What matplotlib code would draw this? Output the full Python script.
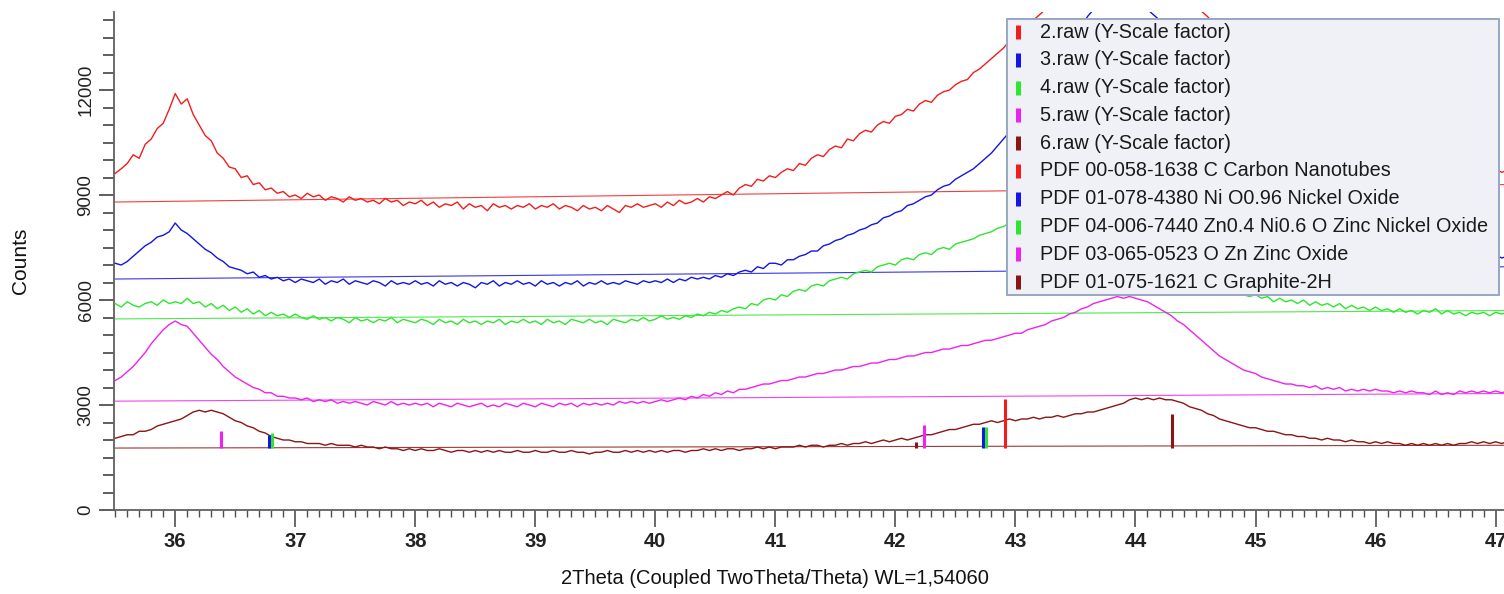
import matplotlib
matplotlib.use("Agg")
import matplotlib.pyplot as plt
import numpy as np
from matplotlib import font_manager
from matplotlib.ticker import MultipleLocator
from matplotlib.patches import Rectangle
from matplotlib.lines import Line2D

plt.rcParams['font.family'] = ['Liberation Sans', 'DejaVu Sans']

# axis texts in the original use a narrow face; fall back to a normal one
font_names = {f.name for f in font_manager.fontManager.ttflist}
if 'Liberation Sans Narrow' in font_names:
    NARROW, XT_SIZE, XL_SIZE = ['Liberation Sans Narrow', 'DejaVu Sans'], 16, 17.5
else:
    NARROW, XT_SIZE, XL_SIZE = ['Liberation Sans', 'DejaVu Sans'], 14.5, 14.5

# scan grid (2theta), one value every 0.05 deg starting at 35.50
start_2theta = 35.50
step_2theta = 0.05

raw2 = [9620, 9750, 9900, 10150, 10050, 10450, 10600, 10900, 11050, 11450,
        11900, 11600, 11750, 11300, 11000, 10700, 10550, 10200, 10050, 9800, 9750, 9500, 9550, 9300, 9350, 9150, 9200, 9050, 9100, 8950,
        9000, 8900, 9050, 8950, 9000, 8850, 8950, 8900, 8800, 8950, 8850, 8900, 8800, 8850, 8750, 8900, 8800, 8850, 8700, 8800,
        8750, 8850, 8700, 8800, 8650, 8750, 8700, 8800, 8600, 8750, 8650, 8700, 8550, 8750, 8650, 8700, 8600, 8700, 8650, 8750,
        8600, 8700, 8650, 8750, 8600, 8700, 8650, 8550, 8700, 8600, 8650, 8550, 8700, 8600, 8500, 8700, 8650, 8750, 8650, 8700,
        8750, 8650, 8800, 8700, 8850, 8750, 8800, 8900, 8800, 8950, 8900, 9000, 9100, 9000, 9200, 9300, 9250, 9450, 9400, 9550,
        9500, 9650, 9750, 9700, 9900, 9850, 10050, 10150, 10100, 10300, 10400, 10350, 10600, 10550, 10750, 10850, 10800, 11000, 11100, 11050,
        11250, 11300, 11450, 11400, 11600, 11700, 11650, 11850, 11950, 12000, 12150, 12250, 12300, 12500, 12600, 12750, 12900, 13050, 13200, 13400,
        13600, 13750, 13850, 14000, 14150, 14300, 14500, 14700, 14900, 15050, 15200, 15300, 15400, 15500, 15550, 15600, 15600, 15650, 15600, 15550,
        15500, 15400, 15300, 15150, 15000, 14900, 14800, 14700, 14600, 14500, 14400, 14250, 14100, 13900, 13600, 13300, 13000, 12700, 12450, 12200,
        11950, 11700, 11500, 11300, 11150, 11000, 10900, 10750, 10700, 10550, 10500, 10400, 10350, 10300, 10200, 10250, 10150, 10100, 10150, 10050,
        10050, 10000, 10100, 9950, 10000, 9900, 10000, 9900, 9950, 9850, 9950, 9850, 9900, 9800, 9900, 9800, 9850, 9750, 9850, 9700,
        9750, 9650, 9700]

raw3 = [7050, 7000, 7100, 7250, 7400, 7550, 7650, 7800, 7850, 7950,
        8200, 8000, 7900, 7750, 7600, 7450, 7350, 7200, 7100, 6950, 6900, 6850, 6750, 6800, 6650, 6700, 6600, 6650, 6550, 6600,
        6500, 6600, 6550, 6500, 6600, 6450, 6550, 6500, 6600, 6450, 6550, 6500, 6450, 6550, 6500, 6400, 6550, 6450, 6500, 6450,
        6550, 6450, 6500, 6400, 6550, 6450, 6500, 6400, 6500, 6450, 6350, 6500, 6450, 6550, 6400, 6500, 6450, 6550, 6450, 6500,
        6400, 6550, 6450, 6500, 6400, 6500, 6450, 6550, 6400, 6500, 6450, 6550, 6450, 6500, 6450, 6550, 6500, 6450, 6550, 6500,
        6550, 6500, 6600, 6500, 6600, 6550, 6650, 6600, 6650, 6600, 6700, 6650, 6750, 6700, 6800, 6850, 6800, 6950, 6900, 7050,
        7050, 7000, 7150, 7150, 7250, 7300, 7400, 7400, 7550, 7600, 7700, 7750, 7850, 7900, 8000, 8050, 8150, 8200, 8350, 8400,
        8500, 8550, 8700, 8750, 8850, 8950, 9000, 9150, 9250, 9300, 9450, 9550, 9650, 9750, 9900, 10050, 10200, 10400, 10600, 10800,
        11050, 11300, 11550, 11800, 12050, 12300, 12550, 12800, 13050, 13300, 13550, 13800, 14100, 14300, 14450, 14550, 14600, 14650, 14650, 14600,
        14550, 14450, 14300, 14150, 14000, 13750, 13500, 13250, 12950, 12650, 12300, 11950, 11600, 11250, 10900, 10550, 10200, 9900, 9600, 9350,
        9100, 8900, 8700, 8550, 8400, 8250, 8150, 8050, 7950, 7900, 7800, 7750, 7700, 7650, 7600, 7600, 7550, 7500, 7500, 7450,
        7450, 7400, 7450, 7350, 7400, 7350, 7400, 7300, 7350, 7300, 7350, 7250, 7300, 7250, 7300, 7200, 7300, 7200, 7250, 7200,
        7300, 7200, 7250]

raw4 = [5900, 5800, 5950, 5850, 5800, 5900, 5950, 5850, 6000, 5900,
        5950, 5900, 6050, 5900, 5950, 5800, 5900, 5750, 5850, 5700, 5800, 5650, 5750, 5600, 5700, 5550, 5650, 5550, 5600, 5500,
        5600, 5500, 5450, 5550, 5450, 5500, 5400, 5500, 5450, 5350, 5500, 5400, 5450, 5350, 5450, 5400, 5500, 5350, 5450, 5400,
        5350, 5450, 5400, 5300, 5450, 5350, 5400, 5300, 5450, 5350, 5400, 5300, 5400, 5350, 5450, 5300, 5400, 5350, 5450, 5350,
        5400, 5300, 5450, 5350, 5400, 5300, 5450, 5400, 5350, 5450, 5350, 5400, 5300, 5450, 5400, 5350, 5450, 5400, 5500, 5400,
        5450, 5550, 5450, 5500, 5450, 5550, 5500, 5600, 5550, 5650, 5600, 5700, 5650, 5750, 5800, 5750, 5900, 5850, 6000, 6050,
        6000, 6150, 6100, 6250, 6300, 6250, 6400, 6450, 6400, 6550, 6600, 6650, 6600, 6750, 6800, 6850, 6800, 6950, 7000, 7050,
        7000, 7150, 7200, 7150, 7300, 7350, 7300, 7450, 7500, 7450, 7600, 7650, 7700, 7750, 7850, 7900, 7950, 8050, 8100, 8200,
        8250, 8350, 8400, 8500, 8550, 8650, 8700, 8800, 8850, 8900, 8950, 9000, 9000, 9050, 9050, 9000, 9000, 8950, 8900, 8800,
        8700, 8550, 8400, 8200, 8000, 7800, 7600, 7400, 7200, 7000, 6850, 6700, 6600, 6500, 6400, 6350, 6250, 6200, 6150, 6100,
        6150, 6050, 6100, 5950, 6050, 5950, 6000, 5900, 6000, 5850, 5950, 5850, 5900, 5800, 5900, 5750, 5850, 5750, 5800, 5700,
        5800, 5700, 5750, 5650, 5750, 5650, 5700, 5600, 5700, 5650, 5750, 5600, 5700, 5600, 5650, 5550, 5650, 5600, 5650, 5550,
        5650, 5600, 5650]

raw5 = [3700, 3800, 3950, 4100, 4300, 4500, 4750, 4950, 5150, 5300,
        5400, 5300, 5250, 5050, 4850, 4650, 4450, 4300, 4100, 3950, 3800, 3700, 3600, 3500, 3450, 3350, 3350, 3250, 3250, 3200,
        3200, 3150, 3200, 3100, 3150, 3100, 3150, 3050, 3100, 3050, 3100, 3050, 3000, 3100, 3050, 3000, 3100, 3000, 3050, 3000,
        3050, 3000, 3050, 2950, 3050, 3000, 2950, 3050, 3000, 2950, 3000, 3050, 2950, 3000, 2950, 3050, 3000, 2950, 3050, 3000,
        2950, 3050, 3000, 2950, 3050, 3000, 3050, 2950, 3050, 3000, 3050, 3000, 3050, 3000, 3100, 3050, 3100, 3050, 3100, 3050,
        3100, 3150, 3100, 3150, 3200, 3150, 3250, 3200, 3300, 3250, 3350, 3300, 3400, 3350, 3450, 3450, 3500, 3550, 3600, 3600,
        3650, 3700, 3700, 3750, 3800, 3800, 3850, 3900, 3900, 3950, 4000, 4000, 4050, 4100, 4100, 4150, 4200, 4200, 4250, 4300,
        4300, 4350, 4400, 4400, 4450, 4500, 4500, 4550, 4600, 4600, 4650, 4700, 4700, 4750, 4800, 4850, 4850, 4900, 4950, 5000,
        5050, 5050, 5150, 5200, 5250, 5300, 5400, 5450, 5500, 5600, 5650, 5750, 5800, 5900, 5950, 6000, 6050, 6100, 6050, 6100,
        6050, 6000, 5950, 5850, 5750, 5650, 5550, 5400, 5300, 5150, 5000, 4850, 4700, 4550, 4400, 4300, 4200, 4100, 4000, 3950,
        3900, 3800, 3750, 3700, 3650, 3600, 3600, 3550, 3550, 3500, 3550, 3450, 3500, 3450, 3500, 3400, 3450, 3400, 3450, 3400,
        3450, 3400, 3400, 3350, 3400, 3350, 3400, 3350, 3350, 3300, 3400, 3300, 3350, 3300, 3400, 3350, 3400, 3350, 3400, 3350,
        3400, 3350, 3400]

raw6 = [2050, 2100, 2150, 2150, 2250, 2250, 2300, 2400, 2450, 2500,
        2550, 2600, 2700, 2800, 2850, 2800, 2850, 2800, 2750, 2650, 2550, 2500, 2400, 2350, 2250, 2200, 2100, 2050, 2000, 2000,
        1950, 1950, 1900, 1900, 1900, 1850, 1900, 1850, 1850, 1850, 1800, 1850, 1800, 1800, 1750, 1800, 1750, 1750, 1700, 1750,
        1700, 1750, 1700, 1700, 1750, 1700, 1650, 1700, 1700, 1650, 1700, 1650, 1700, 1650, 1700, 1650, 1650, 1700, 1650, 1650,
        1700, 1650, 1650, 1700, 1650, 1650, 1700, 1650, 1650, 1600, 1650, 1650, 1700, 1650, 1650, 1700, 1650, 1700, 1650, 1700,
        1650, 1700, 1650, 1700, 1700, 1650, 1700, 1700, 1750, 1700, 1750, 1700, 1750, 1750, 1700, 1750, 1750, 1800, 1750, 1800,
        1750, 1800, 1800, 1800, 1850, 1800, 1850, 1850, 1800, 1850, 1850, 1900, 1850, 1900, 1900, 1950, 1900, 1950, 2000, 1950,
        2000, 2050, 2000, 2050, 2100, 2150, 2150, 2200, 2250, 2300, 2300, 2350, 2400, 2450, 2450, 2500, 2550, 2500, 2550, 2600,
        2550, 2600, 2600, 2650, 2600, 2650, 2650, 2700, 2650, 2700, 2750, 2750, 2800, 2800, 2850, 2900, 2950, 3000, 3050, 3150,
        3200, 3150, 3200, 3150, 3200, 3150, 3150, 3100, 3050, 2950, 2900, 2850, 2750, 2700, 2600, 2550, 2500, 2450, 2400, 2350,
        2350, 2300, 2250, 2250, 2200, 2150, 2150, 2100, 2100, 2050, 2050, 2000, 2050, 2000, 2000, 1950, 2000, 1950, 1950, 1900,
        1950, 1900, 1950, 1900, 1900, 1850, 1900, 1850, 1900, 1850, 1900, 1850, 1900, 1850, 1900, 1900, 1950, 1900, 1950, 1900,
        1950, 1900, 1950]

# fitted backgrounds (value at left end, value at right end)
bg_ends = {
    "2": (8800, 9300),
    "3": (6600, 6950),
    "4": (5460, 5700),
    "5": (3110, 3330),
    "6": (1770, 1850),
}

# reference patterns (stick positions / top counts), drawn up from stick_base
stick_base = 1770
cnt_pos, cnt_top = [42.91], [3170]
nio_pos, nio_top = [36.78, 42.73], [2140, 2370]
znnio_pos, znnio_top = [36.81, 42.755], [2200, 2370]
zno_pos, zno_top = [36.38, 42.24], [2260, 2430]
gra_pos, gra_top = [42.17, 44.30], [1940, 2740]

legend_labels = ["2.raw (Y-Scale factor)", "3.raw (Y-Scale factor)", "4.raw (Y-Scale factor)",
                 "5.raw (Y-Scale factor)", "6.raw (Y-Scale factor)",
                 "PDF 00-058-1638 C Carbon Nanotubes", "PDF 01-078-4380 Ni O0.96 Nickel Oxide",
                 "PDF 04-006-7440 Zn0.4 Ni0.6 O Zinc Nickel Oxide", "PDF 03-065-0523 O Zn Zinc Oxide",
                 "PDF 01-075-1621 C Graphite-2H"]

RED, BLUE, GREEN, MAG, BROWN = "#f21c1c", "#1414e6", "#2ee62e", "#ee22ee", "#8a1515"
colors = [RED, BLUE, GREEN, MAG, BROWN]

W, H = 1504, 594
fig = plt.figure(figsize=(W / 100, H / 100), dpi=100)
ax = fig.add_axes([114 / W, 1 - 510 / H, (W - 114) / W, (510 - 12) / H])

xmin, xmax = 35.49, 47.07
series = [raw2, raw3, raw4, raw5, raw6]
for key, ys, c in zip(["2", "3", "4", "5", "6"], series, colors):
    x = start_2theta + step_2theta * np.arange(len(ys))
    ax.plot(x, ys, color=c, lw=1.0, zorder=3)
    b0, b1 = bg_ends[key]
    ax.plot([x[0], x[-1]], [b0, b1], color=c, lw=0.8, alpha=0.85, zorder=2)

for pos, top, c in [(nio_pos, nio_top, BLUE), (znnio_pos, znnio_top, GREEN),
                    (zno_pos, zno_top, MAG), (gra_pos, gra_top, BROWN),
                    (cnt_pos, cnt_top, RED)]:
    ax.vlines(pos, stick_base, top, colors=c, lw=2.2, zorder=4)

ax.set_xlim(xmin, xmax)
ax.set_ylim(0, 14230)

for s in ["top", "right"]:
    ax.spines[s].set_visible(False)
for s in ["left", "bottom"]:
    ax.spines[s].set_color("#606060")
    ax.spines[s].set_linewidth(1.3)

ax.xaxis.set_major_locator(MultipleLocator(1))
ax.xaxis.set_minor_locator(MultipleLocator(0.1))
ax.yaxis.set_major_locator(MultipleLocator(3000))
ax.yaxis.set_minor_locator(MultipleLocator(500))
ax.tick_params(axis="x", which="major", length=12, width=1.2, color="#505050", pad=3.5,
               labelcolor="#222222")
ax.tick_params(axis="x", which="minor", length=5, width=1.0, color="#505050")
ax.tick_params(axis="y", which="major", length=11, width=1.3, color="#505050", pad=3,
               labelsize=13.5, labelcolor="#222222", labelrotation=90)
ax.tick_params(axis="y", which="minor", length=8, width=1.3, color="#505050")
for lbl in ax.get_xticklabels():
    lbl.set_fontweight("bold")
    lbl.set_family(NARROW)
    lbl.set_fontsize(XT_SIZE)
for lbl in ax.get_yticklabels():
    lbl.set_va("center")

ax.set_xlabel("2Theta (Coupled TwoTheta/Theta) WL=1,54060", fontsize=XL_SIZE,
              color="#111111", family=NARROW)
ax.xaxis.set_label_coords((775 - 114) / (W - 114), -(578 - 510) / (510 - 12))
ax.xaxis.label.set_va("center")
ax.set_ylabel("Counts", fontsize=XL_SIZE + 0.5, color="#111111", family=NARROW)
ax.yaxis.set_label_coords(-(114 - 20) / (W - 114), 0.5)
ax.yaxis.label.set_va("center")

# legend box drawn in pixel positions of the figure
def fx(px):
    return px / W

def fy(py):
    return 1 - py / H

box = Rectangle((fx(1007), fy(295)), fx(1499) - fx(1007), (295 - 19) / H,
                transform=fig.transFigure, facecolor="#eff1f6", edgecolor="#97a6c3",
                lw=1.4, zorder=10)
fig.patches.append(box)
leg_colors = colors + colors
row0, drow = 32, 27.8
for i, (lab, c) in enumerate(zip(legend_labels, leg_colors)):
    yc = row0 + i * drow
    fig.add_artist(Line2D([fx(1018), fx(1018)], [fy(yc + 7), fy(yc - 7)],
                          color=c, lw=3.6, solid_capstyle="butt", zorder=11))
    fig.text(fx(1040), fy(yc), lab, fontsize=14.3, color="#1a1a1a",
             va="center", ha="left", zorder=12)

fig.savefig("out.png", dpi=100)
